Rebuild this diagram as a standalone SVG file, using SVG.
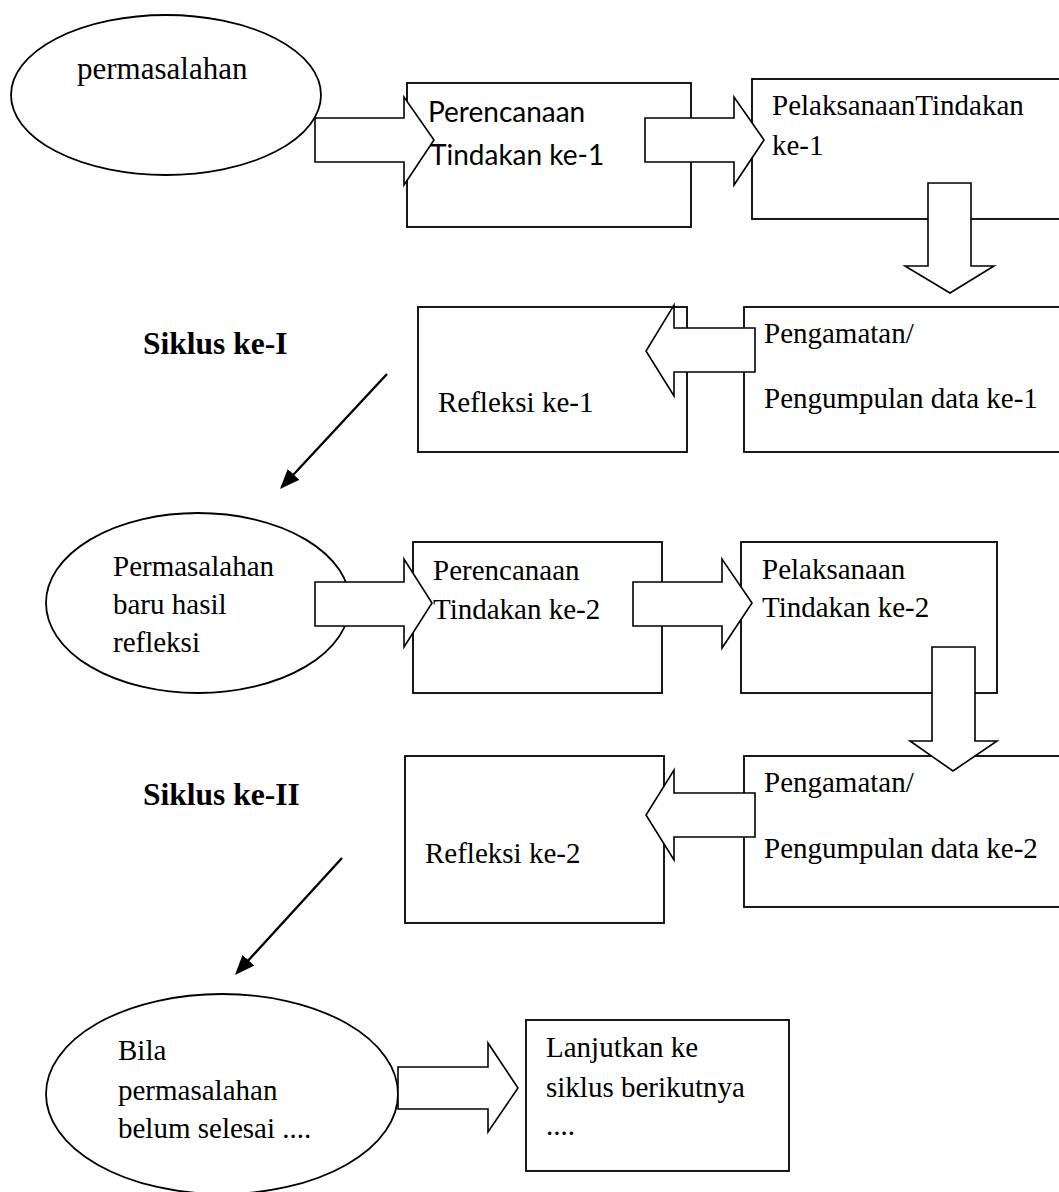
<svg xmlns="http://www.w3.org/2000/svg" width="1059" height="1192" viewBox="0 0 1059 1192">
<defs>
<style>
.bg{fill:#fff}
.sh{fill:#fff;stroke:#000;stroke-width:1.8}
.blk{fill:#fff;stroke:#000;stroke-width:1.6;stroke-linejoin:miter}
.t{font-family:"Liberation Serif","Times New Roman",serif;font-size:29px;fill:#000}
.s{font-family:Lato,"Liberation Sans",sans-serif;font-size:28px;fill:#000}
.b{font-family:"Liberation Serif","Times New Roman",serif;font-size:31.5px;font-weight:bold;fill:#000}
.ln{fill:none;stroke:#000;stroke-width:2.4}
</style>
<marker id="ah" viewBox="0 0 20 16" refX="10" refY="8" markerWidth="20" markerHeight="16" orient="auto" markerUnits="userSpaceOnUse">
<path d="M0,0 L20,8 L0,16 z" fill="#000"/>
</marker>
</defs>
<rect class="bg" x="0" y="0" width="1059" height="1192"/>

<g id="node-permasalahan">
<ellipse class="sh" cx="166" cy="95" rx="155" ry="80"/>
<text class="t" x="77" y="79" style="font-size:31px">permasalahan</text>
</g>
<g id="node-perencanaan1">
<rect class="sh" x="407" y="83" width="284" height="144"/>
</g>
<g id="node-pelaksanaan1">
<rect class="sh" x="752" y="79" width="320" height="140"/>
</g>
<g id="node-refleksi1">
<rect class="sh" x="418" y="307" width="269" height="145"/>
</g>
<g id="node-pengamatan1">
<rect class="sh" x="744" y="307" width="330" height="145"/>
</g>
<g id="node-permasalahan-baru">
<ellipse class="sh" cx="198" cy="603" rx="152" ry="90"/>
</g>
<g id="node-perencanaan2">
<rect class="sh" x="413" y="542" width="249" height="151"/>
</g>
<g id="node-pelaksanaan2">
<rect class="sh" x="741" y="542" width="256" height="151"/>
</g>
<g id="node-refleksi2">
<rect class="sh" x="405" y="756" width="259" height="167"/>
</g>
<g id="node-pengamatan2">
<rect class="sh" x="744" y="756" width="330" height="151"/>
</g>
<g id="node-bila">
<ellipse class="sh" cx="222" cy="1094" rx="176" ry="100"/>
</g>
<g id="node-lanjutkan">
<rect class="sh" x="526" y="1020" width="263" height="151"/>
</g>

<g id="connectors">
<polygon class="blk" points="315,118 404,118 404,97 434,140 404,185 404,162 315,162"/>
<polygon class="blk" points="645,118 734,118 734,97 764,140 734,185 734,162 645,162"/>
<polygon class="blk" points="928,183 971,183 971,266 994,266 950,293 905,266 928,266"/>
<polygon class="blk" points="755,328 674,328 674,305 646,351 674,396 674,372 755,372"/>
<polygon class="blk" points="315,582 404,582 404,559 432,603 404,647 404,626 315,626"/>
<polygon class="blk" points="633,582 722,582 722,559 752,603 722,648 722,626 633,626"/>
<polygon class="blk" points="932,647 975,647 975,741 997,741 953,771 910,741 932,741"/>
<polygon class="blk" points="755,793 674,793 674,770 646,815 674,860 674,837 755,837"/>
<polygon class="blk" points="398,1067 488,1067 488,1043 518,1088 488,1132 488,1109 398,1109"/>
<line class="ln" x1="387" y1="374" x2="286.8" y2="481.7" marker-end="url(#ah)"/>
<line class="ln" x1="342" y1="858" x2="241.7" y2="967.6" marker-end="url(#ah)"/>
</g>

<g id="labels">
<text class="s" x="428" y="122">Perencanaan</text>
<text class="s" x="430" y="165">Tindakan ke-1</text>
<text class="t" x="772" y="115">PelaksanaanTindakan</text>
<text class="t" x="772" y="155">ke-1</text>
<text class="b" x="143" y="354">Siklus ke-I</text>
<text class="t" x="438" y="412">Refleksi ke-1</text>
<text class="t" x="764" y="343">Pengamatan/</text>
<text class="t" x="764" y="408">Pengumpulan data ke-1</text>
<text class="t" x="113" y="576">Permasalahan</text>
<text class="t" x="113" y="614">baru hasil</text>
<text class="t" x="113" y="652">refleksi</text>
<text class="t" x="433" y="580">Perencanaan</text>
<text class="t" x="433" y="619">Tindakan ke-2</text>
<text class="t" x="762" y="579">Pelaksanaan</text>
<text class="t" x="762" y="617">Tindakan ke-2</text>
<text class="b" x="143" y="805">Siklus ke-II</text>
<text class="t" x="425" y="863">Refleksi ke-2</text>
<text class="t" x="764" y="792">Pengamatan/</text>
<text class="t" x="764" y="858">Pengumpulan data ke-2</text>
<text class="t" x="118" y="1060">Bila</text>
<text class="t" x="118" y="1100">permasalahan</text>
<text class="t" x="118" y="1138">belum selesai ....</text>
<text class="t" x="546" y="1057">Lanjutkan ke</text>
<text class="t" x="546" y="1097">siklus berikutnya</text>
<text class="t" x="546" y="1135">....</text>
</g>
</svg>
